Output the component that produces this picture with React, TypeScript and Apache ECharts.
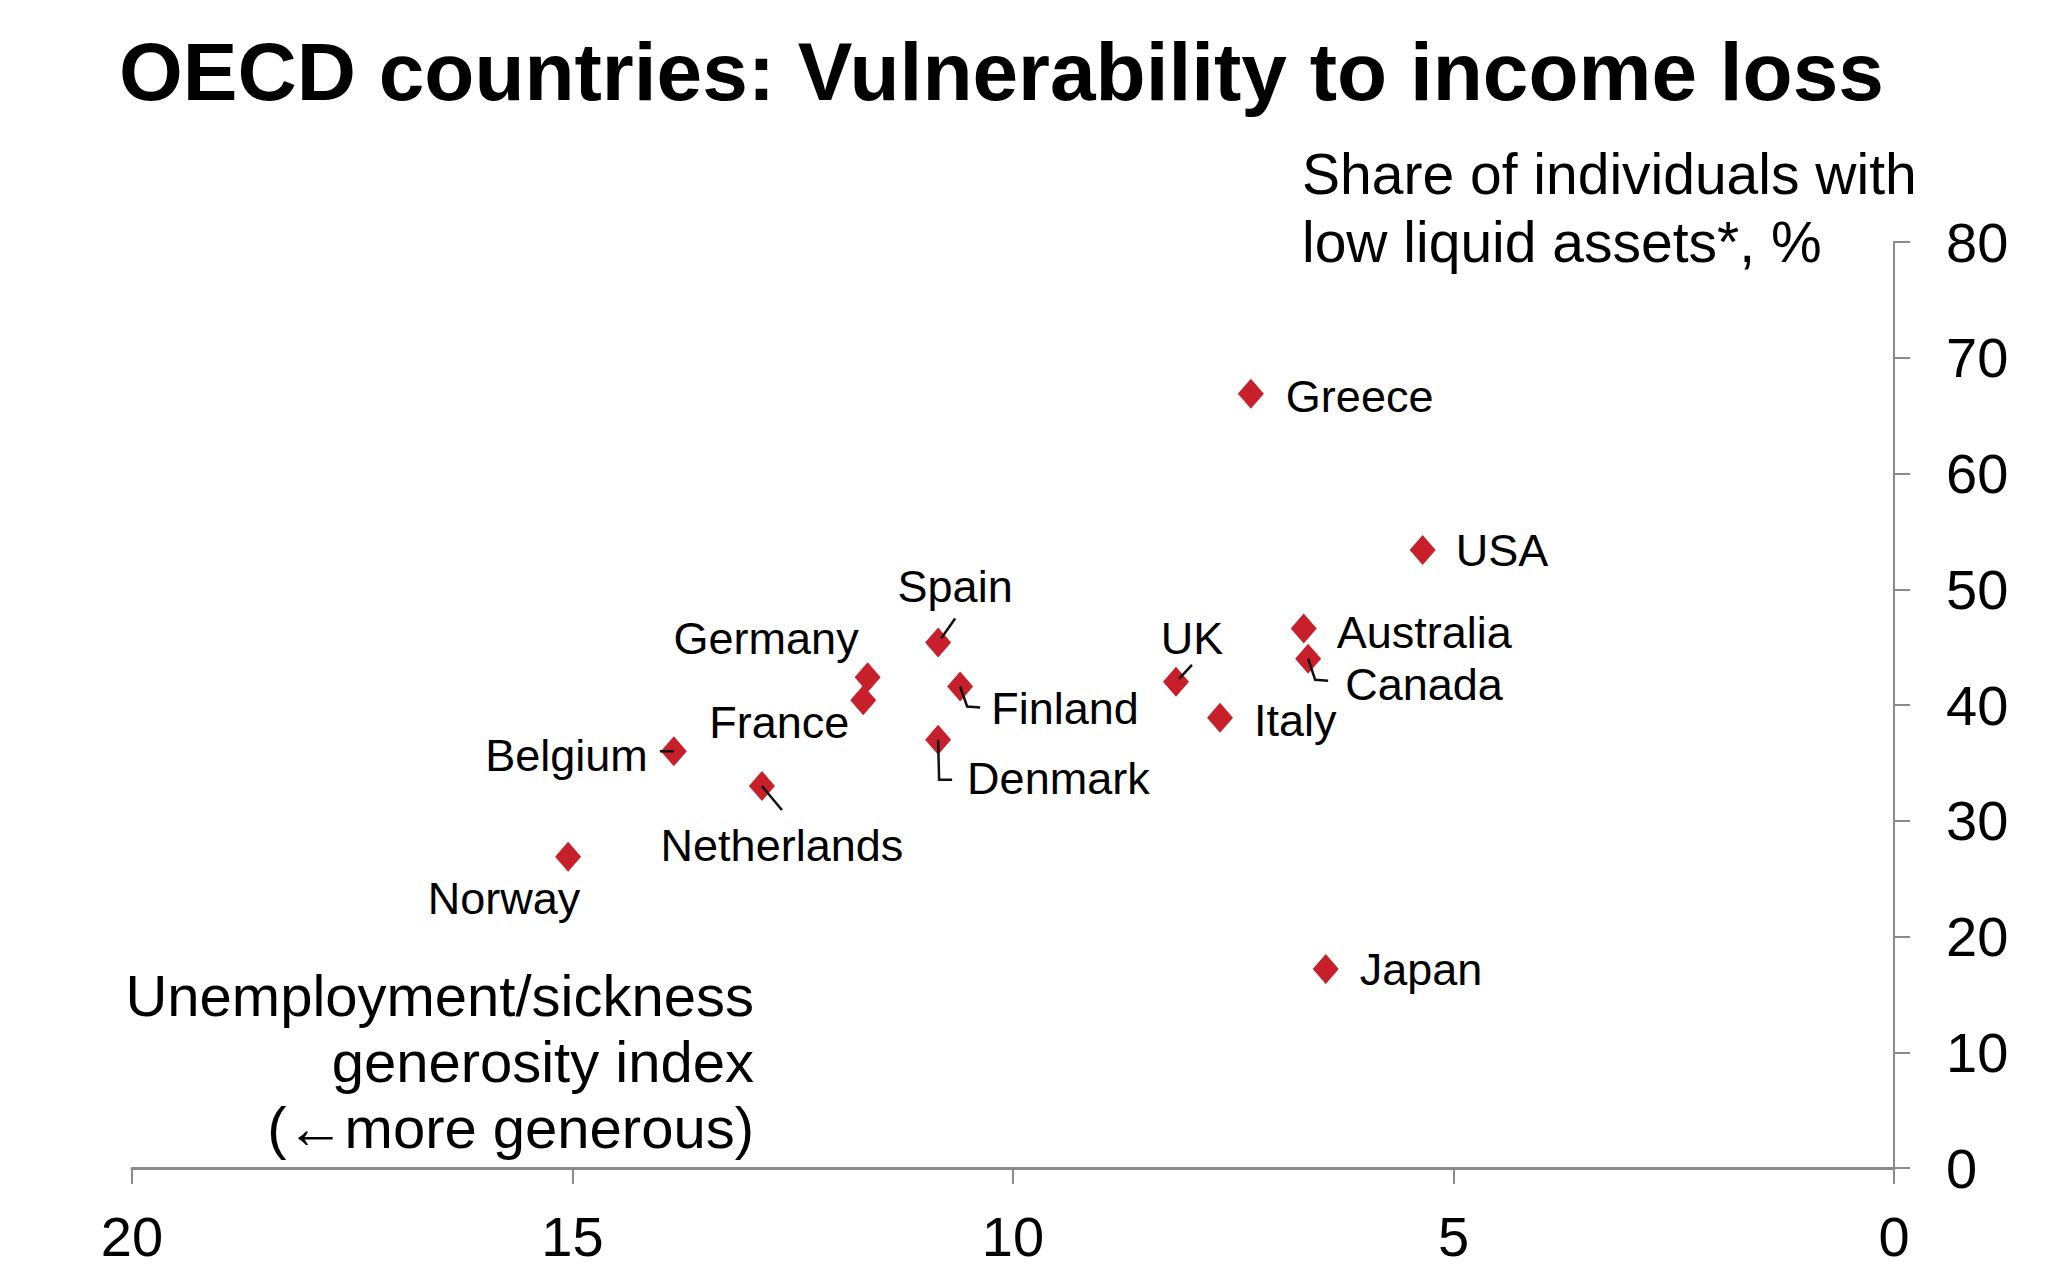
import React, { useEffect, useRef } from "react";
import * as echarts from "echarts";

// ---- data ----
const countries = [
  "Greece", "USA", "Australia", "Canada", "UK", "Italy", "Spain", "Finland",
  "Denmark", "Germany", "France", "Belgium", "Netherlands", "Norway", "Japan",
];
const generosityIndex = [
  7.3, 5.35, 6.7, 6.65, 8.15, 7.65, 10.85, 10.6, 10.85, 11.65, 11.7, 13.85, 12.85, 15.05, 6.45,
];
const lowLiquidShare = [
  66.9, 53.4, 46.6, 44.0, 42.0, 38.9, 45.4, 41.6, 37.0, 42.4, 40.4, 36.0, 33.0, 26.9, 17.2,
];
const xTickValues = [0, 5, 10, 15, 20];
const yTickValues = [0, 10, 20, 30, 40, 50, 60, 70, 80];

const titleText = "OECD countries: Vulnerability to income loss";
const yAxisTitle = "Share of individuals with\nlow liquid assets*, %";
const xAxisTitle = "Unemployment/sickness\ngenerosity index\n(\u2190more generous)";

// ---- label placement (pixel offsets from the marker centre) ----
type Place = { dx: number; dy: number; align: "left" | "right" | "center"; leader?: number[][] };
const placement: Record<string, Place> = {
  Greece: { dx: 35, dy: 3, align: "left" },
  USA: { dx: 33, dy: 1, align: "left" },
  Australia: { dx: 33, dy: 4, align: "left" },
  Canada: { dx: 37, dy: 26, align: "left", leader: [[0, 0], [7, 21], [20, 22]] },
  UK: { dx: 16, dy: -43, align: "center", leader: [[3, -3], [16, -17]] },
  Italy: { dx: 34, dy: 3, align: "left" },
  Spain: { dx: 17, dy: -56, align: "center", leader: [[3, -4], [17, -24]] },
  Finland: { dx: 31, dy: 22, align: "left", leader: [[0, 0], [7, 20], [20, 21]] },
  Denmark: { dx: 29, dy: 39, align: "left", leader: [[0, 0], [1, 40], [14, 40]] },
  Germany: { dx: -9, dy: -39, align: "right" },
  France: { dx: -14, dy: 22, align: "right" },
  Belgium: { dx: -26, dy: 4, align: "right", leader: [[-14, 0], [0, 0]] },
  Netherlands: { dx: 20, dy: 59, align: "center", leader: [[0, 0], [20, 24]] },
  Norway: { dx: -64, dy: 42, align: "center" },
  Japan: { dx: 34, dy: 1, align: "left" },
};

const FONT = "'Liberation Sans', Arial, Helvetica, sans-serif";
const AXIS_COLOR = "#8a8a8a";
const MARKER_COLOR = "#c8202a";

export default function App() {
  const ref = useRef<HTMLDivElement>(null);

  useEffect(() => {
    if (!ref.current) return;
    const chart = echarts.init(ref.current, null, { renderer: "svg" });

    const points = countries.map((name, i) => ({
      name,
      value: [generosityIndex[i], lowLiquidShare[i]],
    }));

    const option: any = {
      animation: false,
      backgroundColor: "#ffffff",
      textStyle: { fontFamily: FONT },
      title: {
        text: titleText,
        left: 114,
        top: 25,
        textStyle: { fontFamily: FONT, fontSize: 82, fontWeight: "bold", color: "#000" },
      },
      grid: { left: 132, right: 154, top: 242, bottom: 112, containLabel: false },
      xAxis: {
        type: "value",
        inverse: true,
        min: xTickValues[0],
        max: xTickValues[xTickValues.length - 1],
        interval: xTickValues[1] - xTickValues[0],
        splitLine: { show: false },
        axisLine: { show: true, onZero: false, lineStyle: { color: AXIS_COLOR, width: 3 } },
        axisTick: { show: true, inside: false, length: 16, lineStyle: { color: AXIS_COLOR, width: 2 } },
        axisLabel: { fontFamily: FONT, fontSize: 56, color: "#000", margin: 40 },
      },
      yAxis: {
        type: "value",
        position: "right",
        min: yTickValues[0],
        max: yTickValues[yTickValues.length - 1],
        interval: yTickValues[1] - yTickValues[0],
        splitLine: { show: false },
        axisLine: { show: true, onZero: false, lineStyle: { color: AXIS_COLOR, width: 2 } },
        axisTick: { show: true, inside: false, length: 16, lineStyle: { color: AXIS_COLOR, width: 2 } },
        axisLabel: { fontFamily: FONT, fontSize: 56, color: "#000", margin: 52, align: "left" },
      },
      series: [
        {
          type: "scatter",
          data: points,
          symbol: "diamond",
          symbolSize: [26, 30],
          itemStyle: { color: MARKER_COLOR, opacity: 1 },
          label: {
            show: true,
            formatter: (p: any) => p.name,
            fontFamily: FONT,
            fontSize: 45,
            color: "#000",
          },
          labelLayout: (params: any) => {
            const name = countries[params.dataIndex];
            const pl = placement[name];
            const cx = params.rect.x + params.rect.width / 2;
            const cy = params.rect.y + params.rect.height / 2;
            return {
              x: cx + pl.dx,
              y: cy + pl.dy,
              align: pl.align,
              verticalAlign: "middle",
            };
          },
          z: 3,
        },
      ],
      graphic: [
        {
          type: "text",
          x: 1302,
          y: 140,
          style: {
            text: yAxisTitle,
            font: `57px ${FONT}`,
            lineHeight: 68,
            fill: "#000",
            align: "left",
            verticalAlign: "top",
          },
        },
        {
          type: "text",
          x: 754,
          y: 962,
          style: {
            text: xAxisTitle,
            font: `58px ${FONT}`,
            lineHeight: 66,
            fill: "#000",
            align: "right",
            verticalAlign: "top",
          },
        },
      ],
    };

    chart.setOption(option);

    // leader lines, anchored on the markers' pixel positions from the axes
    const leaders: any[] = [];
    countries.forEach((name, i) => {
      const pl = placement[name];
      if (!pl.leader) return;
      const c = chart.convertToPixel({ gridIndex: 0 }, [generosityIndex[i], lowLiquidShare[i]]) as number[];
      leaders.push({
        type: "polyline",
        z: 10,
        shape: { points: pl.leader.map(([a, b]) => [c[0] + a, c[1] + b]) },
        style: { stroke: "#111", lineWidth: 2.5, fill: "none" },
      });
    });
    chart.setOption({ graphic: [...option.graphic, ...leaders] });

    return () => chart.dispose();
  }, []);

  return (
    <div
      ref={ref}
      style={{ position: "fixed", left: 0, top: 0, width: 2048, height: 1280, background: "#fff" }}
    />
  );
}
